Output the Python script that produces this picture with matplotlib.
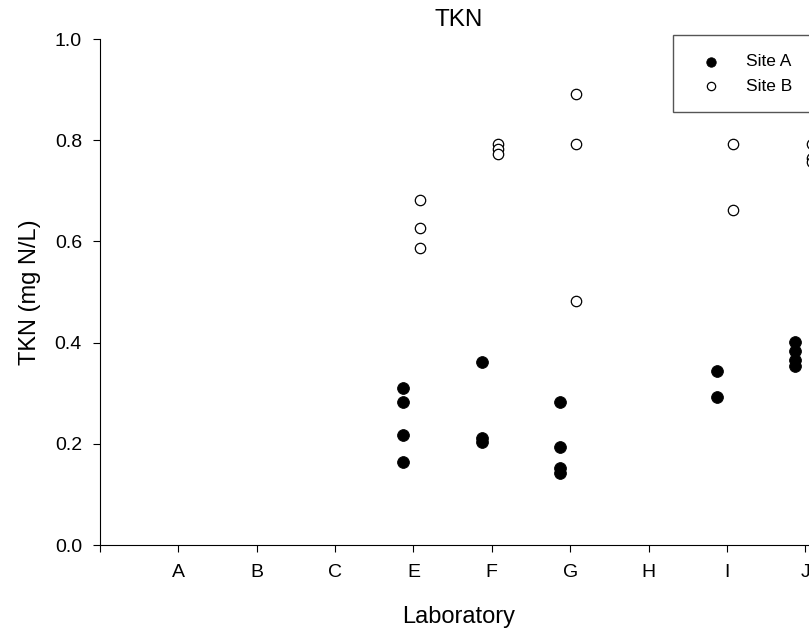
import matplotlib
matplotlib.use("Agg")
import matplotlib.pyplot as plt
from matplotlib.patches import Rectangle

plt.rcParams['font.family'] = ['Liberation Sans', 'DejaVu Sans']

labs = ['A', 'B', 'C', 'E', 'F', 'G', 'H', 'I', 'J']
lab_pos = [1, 2, 3, 4, 5, 6, 7, 8, 9]

# Site A values per laboratory
site_a = {
    'E': [0.310, 0.283, 0.218, 0.164],
    'F': [0.362, 0.212, 0.203],
    'G': [0.282, 0.193, 0.152, 0.143],
    'I': [0.343, 0.293],
    'J': [0.402, 0.383, 0.365, 0.354],
}
# Site B values per laboratory
site_b = {
    'E': [0.682, 0.627, 0.587],
    'F': [0.792, 0.782, 0.773],
    'G': [0.892, 0.792, 0.482],
    'I': [0.792, 0.663],
    'J': [0.793, 0.765, 0.757],
}

fig = plt.figure(figsize=(8.09, 6.3), dpi=100)
ax = fig.add_axes([100/809, 85/630, 717/809, 506/630])

pos = dict(zip(labs, lab_pos))
ax_x, ax_y = [], []
for k, vals in site_a.items():
    ax_x += [pos[k] - 0.13] * len(vals)
    ax_y += vals
bx_x, bx_y = [], []
for k, vals in site_b.items():
    bx_x += [pos[k] + 0.08] * len(vals)
    bx_y += vals

ha = ax.scatter(ax_x, ax_y, s=72, facecolor='black', edgecolor='black', linewidths=0.6,
                label='Site A', zorder=3, clip_on=False)
hb = ax.scatter(bx_x, bx_y, s=56, facecolor='white', edgecolor='black', linewidths=0.9,
                label='Site B', zorder=3, clip_on=False)

ax.set_xlim(0, 9.15)
ax.set_ylim(0, 1.0)
ax.set_xticks([0] + lab_pos)
ax.set_xticklabels([''] + labs, fontsize=14)
ax.set_yticks([0, 0.2, 0.4, 0.6, 0.8, 1.0])
ax.set_yticklabels(['0.0', '0.2', '0.4', '0.6', '0.8', '1.0'], fontsize=14)
ax.tick_params(axis='y', direction='out', length=5, width=0.8, pad=8)
ax.tick_params(axis='x', direction='out', length=5, width=0.8, pad=9)
for s in ['top', 'right']:
    ax.spines[s].set_visible(False)
ax.spines['left'].set_linewidth(0.8)
ax.spines['bottom'].set_linewidth(0.8)

ax.set_xlabel('Laboratory', fontsize=17, labelpad=18)
ax.set_ylabel('TKN (mg N/L)', fontsize=17, labelpad=10)
ax.set_title('TKN', fontsize=17.5, pad=9)

# legend box (its right edge lies beyond the figure)
fig.patches.append(Rectangle((673/809, 1 - 112/630), 200/809, 77/630,
                             transform=fig.transFigure, facecolor='white',
                             edgecolor='#555555', linewidth=1.0, zorder=4))
leg = fig.legend(handles=[ha, hb], loc='center left',
                 bbox_to_anchor=(685/809, 1 - 74/630), fontsize=12.5,
                 frameon=False, borderpad=0, handlelength=2.0,
                 handletextpad=1.0, labelspacing=0.55, markerscale=0.8)
leg.set_zorder(5)

fig.savefig('out.png', dpi=100)
